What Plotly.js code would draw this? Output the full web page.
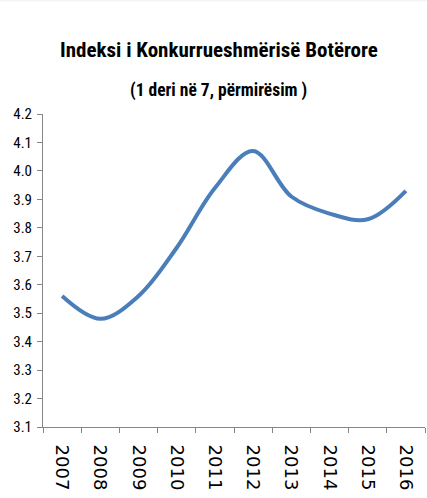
<!DOCTYPE html>
<html>
<head>
<meta charset="utf-8">
<script src="https://cdn.plot.ly/plotly-3.0.1.min.js"></script>
<style>html,body{margin:0;padding:0;background:#fff;}#chart{width:427px;height:498px;}</style>
</head>
<body>
<div id="chart"></div>
<script>
const years = ["2007","2008","2009","2010","2011","2012","2013","2014","2015","2016"];
const values = [3.56, 3.48, 3.56, 3.73, 3.94, 4.07, 3.91, 3.85, 3.83, 3.93];
const yTicks = [3.1,3.2,3.3,3.4,3.5,3.6,3.7,3.8,3.9,4.0,4.1,4.2];
const titleText = "<b>Indeksi i Konkurrueshmërisë Botërore</b>";
const subtitleText = "<b>(1 deri në 7, përmirësim )</b>";

const narrow = "'Liberation Sans Narrow', 'Roboto Condensed', 'DejaVu Sans Condensed', sans-serif";

Plotly.newPlot('chart', [{
  x: years,
  y: values,
  type: 'scatter',
  mode: 'lines',
  line: {color: '#4a7ebb', width: 4, shape: 'spline', smoothing: 1},
  hoverinfo: 'none'
}], {
  width: 427, height: 498,
  margin: {l: 43, r: 2, t: 114, b: 71},
  paper_bgcolor: '#ffffff',
  plot_bgcolor: '#ffffff',
  showlegend: false,
  xaxis: {
    type: 'category',
    range: [-0.5, 9.5],
    tickson: 'boundaries',
    ticks: 'outside', ticklen: 5, tickcolor: '#868686',
    showline: true, linecolor: '#868686', linewidth: 1,
    showgrid: false, zeroline: false,
    tickangle: 90,
    ticklabelstandoff: 13,
    tickfont: {family: "'DejaVu Sans', sans-serif", size: 18, color: '#000'}
  },
  yaxis: {
    range: [3.1, 4.2],
    tickvals: yTicks,
    tickformat: '.1f',
    ticks: 'outside', ticklen: 5, tickcolor: '#868686',
    showline: true, linecolor: '#868686', linewidth: 1,
    showgrid: false, zeroline: false,
    ticklabelstandoff: 2,
    tickfont: {family: narrow, size: 15, color: '#000'}
  },
  shapes: [
    {type: 'rect', xref: 'paper', yref: 'paper', x0: -0.2, x1: 1.1, y0: 1.36, y1: 1.5, fillcolor: '#f3f3f3', line: {width: 0}, layer: 'below'}
  ],
  annotations: [
    {text: titleText, xref: 'paper', yref: 'paper', x: 0.46, y: 1.0, xanchor: 'center', yanchor: 'middle',
     yshift: 64, showarrow: false, font: {family: narrow, size: 21, color: '#000'}},
    {text: subtitleText, xref: 'paper', yref: 'paper', x: 0.46, y: 1.0, xanchor: 'center', yanchor: 'middle',
     yshift: 24, showarrow: false, font: {family: narrow, size: 17.5, color: '#000'}}
  ]
}, {staticPlot: true});
</script>
</body>
</html>
